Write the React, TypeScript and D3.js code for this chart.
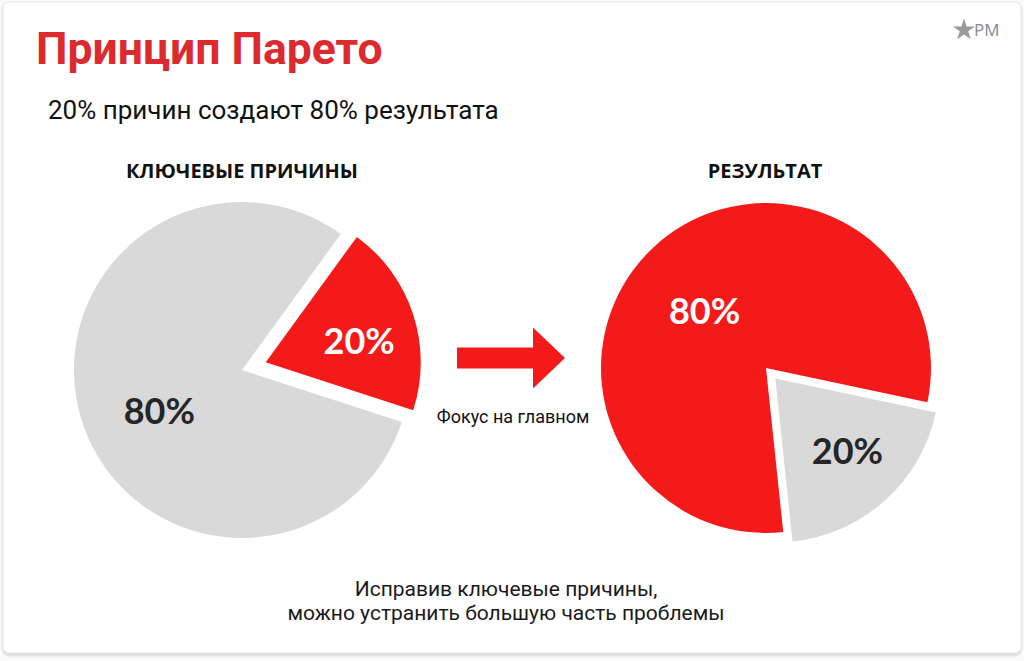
import { useEffect, useRef } from 'react';
import * as d3 from 'd3';

// slide texts
const slideTitle = 'Принцип Парето';
const slideSubtitle = '20% причин создают 80% результата';
const pieTitles = ['КЛЮЧЕВЫЕ ПРИЧИНЫ', 'РЕЗУЛЬТАТ'];
const arrowCaption = 'Фокус на главном';
const footerLines = ['Исправив ключевые причины,', 'можно устранить большую часть проблемы'];

// pie values (share, %)
const causesValues = [20, 80];   // key causes, other causes
const resultValues = [80, 20];   // result from key causes, the rest

const RED = '#f41a1a';
const GRAY = '#d9d9d9';
const DARK = '#262626';

export default function App() {
  const svgRef = useRef<SVGSVGElement>(null);

  useEffect(() => {
    document.body.style.margin = '0';
    if (!svgRef.current) return;
    const svg = d3.select(svgRef.current);
    svg.selectAll('*').remove();

    const W = 1024, H = 661;
    svg.attr('width', W).attr('height', H);

    const defs = svg.append('defs');
    const f = defs.append('filter').attr('id', 'card-shadow')
      .attr('x', '-5%').attr('y', '-5%').attr('width', '110%').attr('height', '110%');
    f.append('feDropShadow').attr('dx', 0).attr('dy', 2).attr('stdDeviation', 1.5)
      .attr('flood-color', '#000').attr('flood-opacity', 0.18);

    svg.append('rect').attr('width', W).attr('height', H).attr('fill', '#fbfbfb');
    svg.append('rect')
      .attr('x', 3).attr('y', 2).attr('width', 1018).attr('height', 651).attr('rx', 6)
      .attr('fill', '#fff').attr('stroke', '#e6e6e6').attr('filter', 'url(#card-shadow)');

    // header
    svg.append('text').attr('x', 36).attr('y', 64)
      .attr('font-family', 'Roboto, Arial, sans-serif').attr('font-weight', 700)
      .attr('font-size', 44.5).attr('fill', '#dc2a2e').text(slideTitle);
    svg.append('text').attr('x', 48).attr('y', 119)
      .attr('font-family', 'Roboto, Arial, sans-serif').attr('font-size', 26)
      .attr('fill', '#111').text(slideSubtitle);

    // logo
    const logo = svg.append('g').attr('transform', 'translate(964,30)');
    logo.append('path')
      .attr('d', d3.symbol(d3.symbolStar, 150)())
      .attr('fill', '#9a9a9a');
    logo.append('text').attr('x', 10).attr('y', 6)
      .attr('font-family', '"Open Sans", sans-serif').attr('font-size', 17)
      .attr('fill', '#8a8a8a').text('PM');

    const deg = Math.PI / 180;
    type PieSpec = {
      values: number[];
      colors: string[];
      labelColors: string[];
      start: number;
      cx: number; cy: number;
      radius: number[];
      explode: number;       // index of the pulled-out slice
      offset: number;
      labelFactor: number[];
      labelShift: [number, number][];
      titleX: number;
      title: string;
    };

    const pies: PieSpec[] = [
      {
        values: causesValues, colors: [RED, GRAY], labelColors: ['#fff', DARK],
        start: 36, cx: 242, cy: 370, radius: [155, 168], explode: 0, offset: 25,
        labelFactor: [0.62, 0.58], labelShift: [[2, 7], [10, 10]],
        titleX: 242, title: pieTitles[0],
      },
      {
        values: resultValues, colors: [RED, GRAY], labelColors: ['#fff', DARK],
        start: 174, cx: 766, cy: 368, radius: [165, 164], explode: 1, offset: 14,
        labelFactor: [0.52, 0.62], labelShift: [[-4, 6], [4, -4]],
        titleX: 765, title: pieTitles[1],
      },
    ];

    pies.forEach(p => {
      const arcs = d3.pie<number>().sort(null)
        .startAngle(p.start * deg).endAngle(p.start * deg + 2 * Math.PI)(p.values);

      svg.append('text').attr('x', p.titleX).attr('y', 178)
        .attr('text-anchor', 'middle')
        .attr('font-family', '"Open Sans", sans-serif').attr('font-weight', 700)
        .attr('font-size', 20).attr('fill', '#111').text(p.title);

      const g = svg.append('g').attr('transform', `translate(${p.cx},${p.cy})`);
      arcs.forEach((a, i) => {
        const mid = (a.startAngle + a.endAngle) / 2;
        const off = i === p.explode ? p.offset : 0;
        const ox = off * Math.sin(mid), oy = -off * Math.cos(mid);
        const r = p.radius[i];
        const arc = d3.arc<d3.PieArcDatum<number>>().innerRadius(0).outerRadius(r);
        const sg = g.append('g').attr('transform', `translate(${ox},${oy})`);
        sg.append('path').attr('d', arc(a)!).attr('fill', p.colors[i]);
        const lr = r * p.labelFactor[i];
        const [sx, sy] = p.labelShift[i];
        sg.append('text')
          .attr('x', lr * Math.sin(mid) + sx).attr('y', -lr * Math.cos(mid) + sy)
          .attr('text-anchor', 'middle').attr('dominant-baseline', 'central')
          .attr('font-family', 'Lato, "Open Sans", sans-serif').attr('font-weight', 700)
          .attr('font-size', 36).attr('fill', p.labelColors[i])
          .text(`${a.data}%`);
      });
    });

    // arrow between pies
    const ax = 457, ay = 358, shaftH = 21, shaftL = 76, headH = 61, headL = 32;
    const path = d3.path();
    path.moveTo(ax, ay - shaftH / 2);
    path.lineTo(ax + shaftL, ay - shaftH / 2);
    path.lineTo(ax + shaftL, ay - headH / 2);
    path.lineTo(ax + shaftL + headL, ay);
    path.lineTo(ax + shaftL, ay + headH / 2);
    path.lineTo(ax + shaftL, ay + shaftH / 2);
    path.lineTo(ax, ay + shaftH / 2);
    path.closePath();
    svg.append('path').attr('d', path.toString()).attr('fill', RED);

    svg.append('text').attr('x', 513).attr('y', 423).attr('text-anchor', 'middle')
      .attr('font-family', 'Roboto, Arial, sans-serif').attr('font-size', 18)
      .attr('fill', '#111').text(arrowCaption);

    // footer
    footerLines.forEach((line, i) => {
      svg.append('text').attr('x', 506).attr('y', 596 + i * 24).attr('text-anchor', 'middle')
        .attr('font-family', 'Roboto, Arial, sans-serif').attr('font-size', 21)
        .attr('fill', '#1a1a1a').text(line);
    });
  }, []);

  return <svg ref={svgRef} style={{ display: 'block' }} />;
}
